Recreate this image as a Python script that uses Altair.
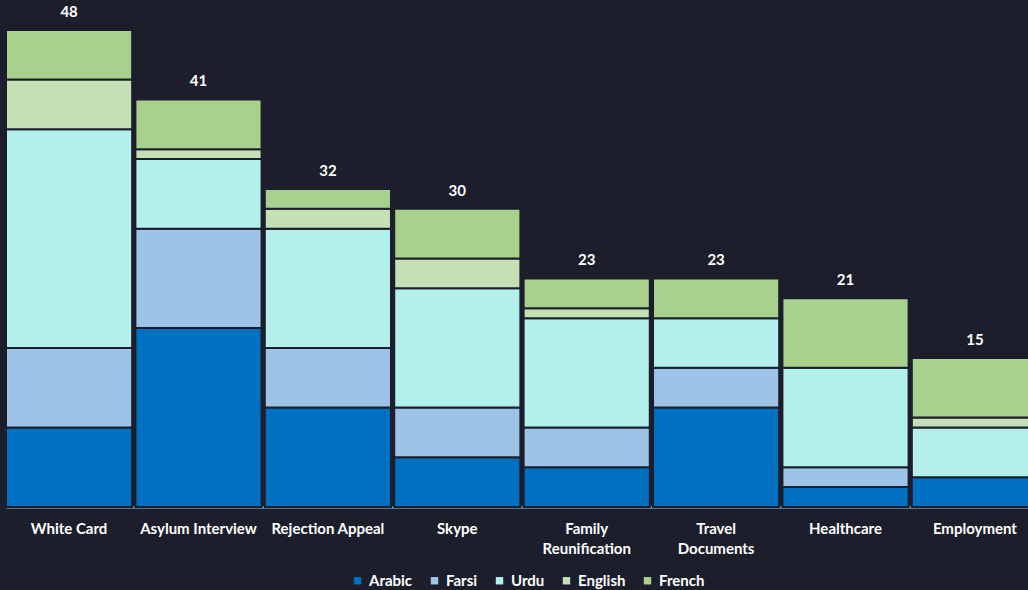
import altair as alt
import pandas as pd

# Requests per service, broken down by the language of the client
services = ["White Card", "Asylum Interview", "Rejection Appeal", "Skype",
            "Family Reunification", "Travel Documents", "Healthcare", "Employment"]
languages = ["Arabic", "Farsi", "Urdu", "English", "French"]

arabic = [8, 18, 10, 5, 4, 10, 2, 3]
farsi = [8, 10, 6, 5, 4, 4, 2, 0]
urdu = [22, 7, 12, 12, 11, 5, 10, 5]
english = [5, 1, 2, 3, 1, 0, 0, 1]
french = [5, 5, 2, 5, 3, 4, 7, 6]

colors = ["#0070c0", "#9dc3e6", "#b3f0ec", "#c5e0b4", "#a9d18e"]
bg = "#1c1f2b"
font = "Lato"

series = [arabic, farsi, urdu, english, french]
rows = []
for li, (lang, vals) in enumerate(zip(languages, series)):
    for s, v in zip(services, vals):
        rows.append({"service": s, "language": lang, "count": v, "order": li})
df = pd.DataFrame(rows)

# the band range runs a little past the right edge, so the last bar is clipped
x_scale = alt.Scale(paddingInner=0.025, paddingOuter=0, range=[0, 1032])

x_enc = alt.X(
    "service:N",
    sort=services,
    scale=x_scale,
    axis=alt.Axis(
        title=None,
        labelAngle=0,
        labelColor="white",
        labelFont=font,
        labelFontWeight="bold",
        labelFontSize=15,
        labelPadding=14,
        labelLineHeight=20,
        ticks=False,
        domainColor="#9dc3e6",
        domainWidth=2,
        labelExpr="datum.label == 'Family Reunification' ? ['Family', 'Reunification'] : "
                  "datum.label == 'Travel Documents' ? ['Travel', 'Documents'] : datum.label",
    ),
)

bars = alt.Chart(df).transform_filter("datum.count > 0").mark_bar(
    stroke=bg, strokeWidth=2
).encode(
    x=x_enc,
    y=alt.Y("sum(count):Q", stack="zero",
            scale=alt.Scale(domain=[0, 50], nice=False), axis=None),
    color=alt.Color(
        "language:N",
        sort=languages,
        scale=alt.Scale(domain=languages, range=colors),
        legend=alt.Legend(
            title=None,
            orient="none",
            direction="horizontal",
            legendX=344,
            legendY=563,
            columns=5,
            symbolType="square",
            symbolSize=55,
            symbolStrokeWidth=0,
            symbolOffset=0,
            labelColor="white",
            labelFont=font,
            labelFontWeight="bold",
            labelFontSize=15,
            labelOffset=4,
            columnPadding=14,
        ),
    ),
    order=alt.Order("order:Q", sort="ascending"),
)

totals = alt.Chart(df).mark_text(
    dy=-10, baseline="bottom", color="white", font=font,
    fontWeight="bold", fontSize=15
).encode(
    x=alt.X("service:N", sort=services),
    y=alt.Y("sum(count):Q"),
    text=alt.Text("sum(count):Q"),
)

chart = alt.layer(bars, totals).properties(
    width=1022,
    height=497,
    background=bg,
    padding={"left": 6, "top": 10, "right": 0, "bottom": 83},
    autosize=alt.AutoSizeParams(type="none"),
).configure_view(stroke=None).configure_axis(grid=False)

chart.save("out.html", embed_options={"renderer": "svg", "actions": False})
